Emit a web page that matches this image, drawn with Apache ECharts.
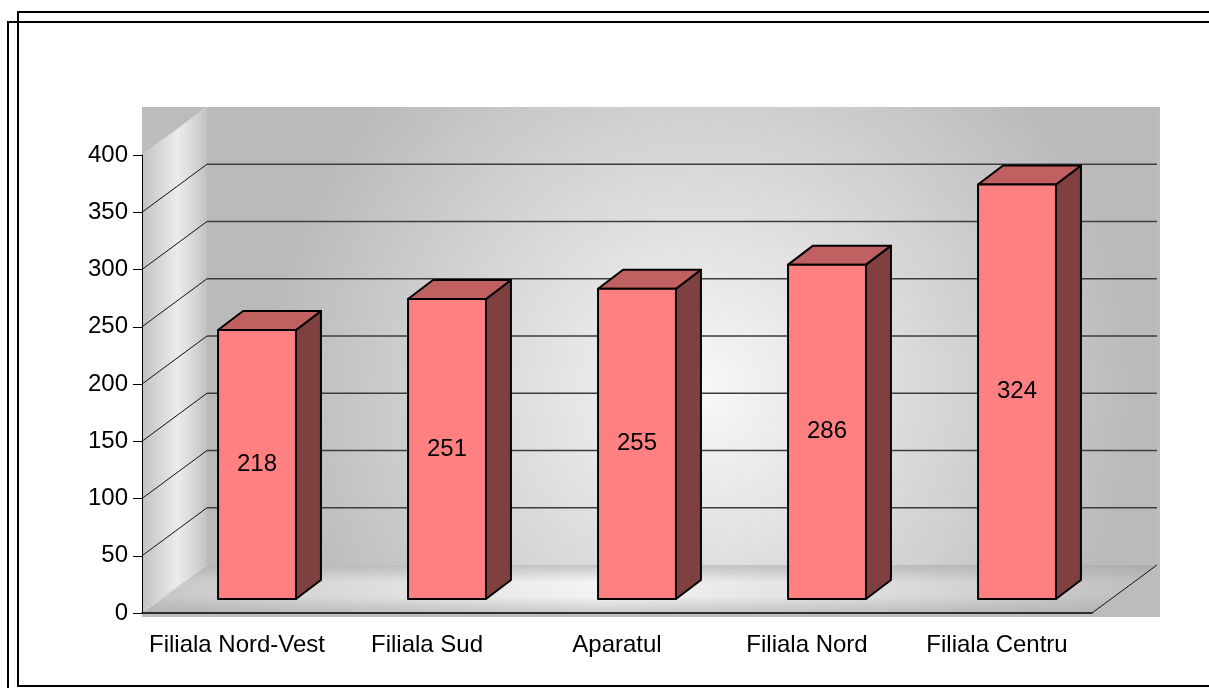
<!DOCTYPE html>
<html lang="ro">
<head>
<meta charset="UTF-8">
<title>Filiale</title>
<style>
  html, body { margin: 0; padding: 0; background: #fff; }
  #chart { width: 1209px; height: 688px; }
</style>
</head>
<body>
<div id="chart"></div>
<script src="https://cdn.jsdelivr.net/npm/echarts@6/dist/echarts.min.js"></script>
<script>
var categories = ['Filiala Nord-Vest', 'Filiala Sud', 'Aparatul', 'Filiala Nord', 'Filiala Centru'];
// bar heights as they stand against the value axis
var barValues = [235, 262, 271, 292, 362];
// numbers printed on the bars
var barLabels = ['218', '251', '255', '286', '324'];
var yTicks = [0, 50, 100, 150, 200, 250, 300, 350, 400];

var WALL = [65, 48];      // depth offset of back wall
var BAR_OFF = [20, 14];   // front face of the bars sits this far back
var BAR_DEPTH = [25, 19];
var FONT = '"Liberation Sans", Arial, sans-serif';

var chart = echarts.init(document.getElementById('chart'));

function lin(x2, y2, stops) {
    return new echarts.graphic.LinearGradient(0, 0, x2, y2, stops);
}

function renderBackdrop(params, api) {
    var bw = api.size([1, 0])[0];
    var p0 = api.coord([0, yTicks[0]]);
    var pN = api.coord([categories.length - 1, yTicks[yTicks.length - 1]]);
    var left = p0[0] - bw / 2, right = pN[0] + bw / 2;
    var bottom = p0[1], top = pN[1];
    var dx = WALL[0], dy = WALL[1];
    var kids = [];

    kids.push({ type: 'rect', shape: { x: left, y: top - dy, width: right + dx + 3 - left, height: bottom + 4 - (top - dy) },
        style: { fill: '#bcbcbc' } });
    // back wall
    kids.push({ type: 'rect', shape: { x: left + dx, y: top - dy, width: right - left, height: bottom - top },
        style: { fill: { type: 'radial', x: 0.52, y: 0.62, r: 0.95, colorStops: [
            { offset: 0, color: '#f8f8f8' }, { offset: 0.45, color: '#dcdcdc' }, { offset: 1, color: '#bababa' }] } } });
    // side wall
    kids.push({ type: 'polygon', shape: { points: [[left, top], [left + dx, top - dy], [left + dx, bottom - dy], [left, bottom]] },
        style: { fill: lin(1, 0, [{ offset: 0, color: '#c2c2c2' }, { offset: 0.55, color: '#ececec' },
            { offset: 0.85, color: '#d2d2d2' }, { offset: 1, color: '#c0c0c0' }]) } });
    // floor
    var floorPts = [[left, bottom], [left + dx, bottom - dy], [right + dx, bottom - dy], [right, bottom]];
    kids.push({ type: 'polygon', shape: { points: floorPts },
        style: { fill: lin(1, 0, [{ offset: 0, color: '#c6c6c6' }, { offset: 0.45, color: '#f4f4f4' },
            { offset: 0.75, color: '#dadada' }, { offset: 1, color: '#bdbdbd' }]) } });
    kids.push({ type: 'polygon', shape: { points: floorPts },
        style: { fill: lin(0, 1, [{ offset: 0, color: 'rgba(160,160,160,0.55)' }, { offset: 0.35, color: 'rgba(160,160,160,0)' },
            { offset: 0.65, color: 'rgba(160,160,160,0)' }, { offset: 1, color: 'rgba(160,160,160,0.5)' }]) } });

    // gridlines on the back wall and the side wall
    yTicks.forEach(function (v, k) {
        var y = api.coord([0, v])[1];
        var edge = (k === 0 || k === yTicks.length - 1);
        kids.push({ type: 'line', shape: { x1: left, y1: y, x2: left + dx, y2: y - dy },
            style: edge ? { stroke: '#e4e4e4', lineWidth: 1, lineDash: [2, 2] } : { stroke: '#111', lineWidth: 1 } });
        if (!edge) {
            kids.push({ type: 'line', shape: { x1: left + dx, y1: y - dy, x2: right + dx, y2: y - dy },
                style: { stroke: '#3c3c3c', lineWidth: 1.5 } });
        }
    });
    // right edge of the floor
    kids.push({ type: 'line', shape: { x1: right, y1: bottom, x2: right + dx, y2: bottom - dy },
        style: { stroke: '#111', lineWidth: 1 } });
    return { type: 'group', children: kids };
}

function renderBar(params, api) {
    var i = api.value(0), v = api.value(1);
    var w = api.size([1, 0])[0] * 0.41;
    var topPt = api.coord([i, v]);
    var basePt = api.coord([i, 0]);
    var x0 = topPt[0] + BAR_OFF[0] - w / 2, x1 = x0 + w;
    var y0 = topPt[1] - BAR_OFF[1], y1 = basePt[1] - BAR_OFF[1];
    var ddx = BAR_DEPTH[0], ddy = BAR_DEPTH[1];
    function st(fill) { return { fill: fill, stroke: '#000', lineWidth: 2, lineJoin: 'round' }; }
    return {
        type: 'group',
        children: [
            { type: 'polygon', shape: { points: [[x1, y0], [x1 + ddx, y0 - ddy], [x1 + ddx, y1 - ddy], [x1, y1]] }, style: st('#804040') },
            { type: 'polygon', shape: { points: [[x0, y0], [x0 + ddx, y0 - ddy], [x1 + ddx, y0 - ddy], [x1, y0]] }, style: st('#c06060') },
            { type: 'rect', shape: { x: x0, y: y0, width: w, height: y1 - y0 }, style: st('#ff8080') },
            { type: 'text', style: { text: barLabels[params.dataIndex], x: (x0 + x1) / 2, y: (y0 + y1) / 2,
                align: 'center', verticalAlign: 'middle', fontSize: 24, fontFamily: FONT, fill: '#000' } }
        ]
    };
}

var option = {
    animation: false,
    backgroundColor: '#fff',
    grid: { left: 142, right: 117, top: 155, bottom: 75 },
    xAxis: {
        type: 'category',
        data: categories,
        z: 5,
        axisLine: { lineStyle: { color: '#000', width: 1.5 } },
        axisTick: { length: 8, lineStyle: { color: '#000' } },
        axisLabel: { color: '#000', fontSize: 24, fontFamily: FONT, margin: 20, interval: 0 },
        splitLine: { show: false }
    },
    yAxis: {
        type: 'value',
        min: 0, max: 400, interval: 50,
        z: 5,
        axisLine: { show: true, lineStyle: { color: '#000', width: 1 } },
        axisTick: { show: true, length: 9, lineStyle: { color: '#000' } },
        axisLabel: { color: '#000', fontSize: 24, fontFamily: FONT, margin: 14 },
        splitLine: { show: false }
    },
    series: [
        { type: 'custom', name: 'backdrop', z: 1, clip: false, silent: true, renderItem: renderBackdrop, data: [[0, 0]] },
        { type: 'custom', name: 'bars', z: 3, clip: false, renderItem: renderBar,
          data: barValues.map(function (v, i) { return [i, v]; }) }
    ],
    graphic: [
        { type: 'polyline', shape: { points: [[1209, 12], [18, 12], [18, 686], [1209, 686]] }, style: { stroke: '#000', lineWidth: 2, fill: null } },
        { type: 'polyline', shape: { points: [[1209, 22], [8, 22], [8, 690]] }, style: { stroke: '#000', lineWidth: 2, fill: null } }
    ]
};

chart.setOption(option);
</script>
</body>
</html>
